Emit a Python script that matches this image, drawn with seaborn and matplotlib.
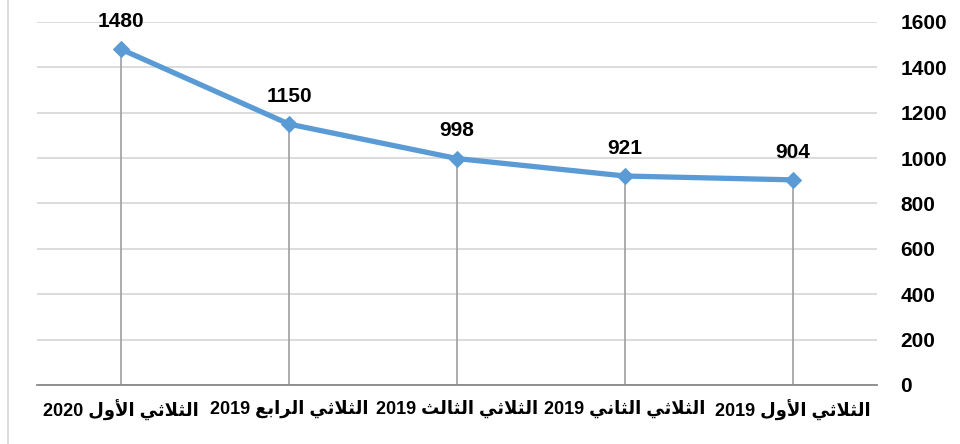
import matplotlib
matplotlib.use("Agg")
import matplotlib.pyplot as plt
import seaborn as sns
from matplotlib.lines import Line2D

# Data, in display order (right-to-left chart, so newest quarter on the left)
quarters = ["الثلاثي الأول 2020", "الثلاثي الرابع 2019", "الثلاثي الثالث 2019",
            "الثلاثي الثاني 2019", "الثلاثي الأول 2019"]
values = [1480, 1150, 998, 921, 904]
y_ticks = [0, 200, 400, 600, 800, 1000, 1200, 1400, 1600]

# matplotlib does not shape Arabic, so map letters to presentation forms
FORMS = {
    'ا': ('\uFE8D', '\uFE8E', None, None),
    'أ': ('\uFE83', '\uFE84', None, None),
    'ب': ('\uFE8F', '\uFE90', '\uFE91', '\uFE92'),
    'ث': ('\uFE99', '\uFE9A', '\uFE9B', '\uFE9C'),
    'ر': ('\uFEAD', '\uFEAE', None, None),
    'ع': ('\uFEC9', '\uFECA', '\uFECB', '\uFECC'),
    'ل': ('\uFEDD', '\uFEDE', '\uFEDF', '\uFEE0'),
    'ن': ('\uFEE5', '\uFEE6', '\uFEE7', '\uFEE8'),
    'و': ('\uFEED', '\uFEEE', None, None),
    'ي': ('\uFEF1', '\uFEF2', '\uFEF3', '\uFEF4'),
    'لا': ('\uFEFB', '\uFEFC', None, None),
    'لأ': ('\uFEF7', '\uFEF8', None, None),
}


def shape_word(w):
    units, i = [], 0
    while i < len(w):
        if w[i] == 'ل' and i + 1 < len(w) and w[i + 1] in 'اأ':
            units.append(w[i:i + 2])
            i += 2
        else:
            units.append(w[i])
            i += 1
    out = []
    for k, u in enumerate(units):
        f = FORMS[u]
        prev = k > 0 and FORMS[units[k - 1]][2] is not None
        nxt = k < len(units) - 1 and f[2] is not None
        out.append(f[{(False, False): 0, (True, False): 1,
                      (False, True): 2, (True, True): 3}[(prev, nxt)]])
    return ''.join(reversed(out))


def rtl(text):
    return ' '.join(w if w.isdigit() else shape_word(w) for w in reversed(text.split(' ')))


sns.set_style("white")
plt.rcParams['font.family'] = ['Liberation Sans', 'DejaVu Sans']
plt.rcParams['font.weight'] = 'bold'
plt.rcParams['text.color'] = 'black'
plt.rcParams['xtick.color'] = 'black'
plt.rcParams['ytick.color'] = 'black'

fig = plt.figure(figsize=(9.6, 4.44), dpi=100)
ax = fig.add_axes([0.0385, 0.133, 0.875, 0.8175])

labels = [rtl(q) for q in quarters]
pos = list(range(len(values)))

ax.vlines(pos, 0, values, color='#a6a6a6', linewidth=1.3, zorder=1)
sns.lineplot(x=pos, y=values, sort=False, marker='D', markersize=8,
             color='#5b9bd5', markeredgecolor='#5b9bd5', linewidth=3.8, ax=ax, zorder=3)

for x, v in zip(pos, values):
    ax.annotate(str(v), (x, v), xytext=(0, 20), textcoords='offset points',
                ha='center', va='center', fontsize=15, fontweight='bold',
                color='black', clip_on=False)

ax.set_xlim(-0.5, len(values) - 0.5)
ax.set_ylim(0, 1600)
ax.set_yticks(y_ticks)
ax.yaxis.tick_right()
ax.set_xticks(pos)
ax.set_xticklabels(labels, fontsize=13, fontweight='bold')
ax.tick_params(axis='y', length=0, pad=17, labelsize=15)
ax.tick_params(axis='x', length=0, pad=11)
ax.grid(axis='y', color='#d9d9d9', linewidth=1.3)
for s in ['top', 'left', 'right']:
    ax.spines[s].set_visible(False)
ax.spines['bottom'].set_color('#898989')
ax.spines['bottom'].set_linewidth(1.3)
ax.set_xlabel('')
ax.set_ylabel('')

fig.add_artist(Line2D([0.008, 0.008], [0, 1], color='#d9d9d9', linewidth=1.3,
                      transform=fig.transFigure))

fig.savefig('out.png', dpi=100)
